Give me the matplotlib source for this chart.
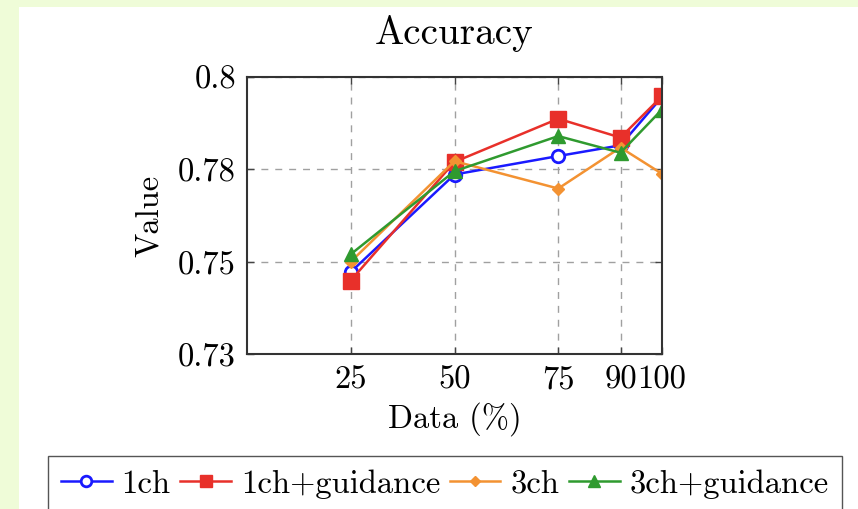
"""Accuracy vs. amount of training data for four model variants."""

import matplotlib

matplotlib.use("Agg")

import matplotlib.pyplot as plt
from matplotlib.patches import Rectangle

# data
data_pct = [25, 50, 75, 90, 100]
acc_1ch = [0.7472, 0.7736, 0.7786, 0.7815, 0.7946]
acc_1ch_guid = [0.7449, 0.7770, 0.7887, 0.7836, 0.7948]
acc_3ch = [0.7500, 0.7772, 0.7698, 0.7809, 0.7738]
acc_3ch_guid = [0.7520, 0.7745, 0.7840, 0.7795, 0.7912]

y_ticks = [0.725, 0.75, 0.775, 0.8]
y_tick_labels = ["0.73", "0.75", "0.78", "0.8"]

plt.rcParams["font.family"] = ["cmr10", "DejaVu Serif"]
plt.rcParams["mathtext.fontset"] = "cm"
plt.rcParams["axes.formatter.use_mathtext"] = True
plt.rcParams["font.size"] = 23.5

fig = plt.figure(figsize=(8.58, 5.09), dpi=100, facecolor="white")

# light green page border (top and left)
green = "#effcd8"
fig.patches.append(Rectangle((0, 1 - 7 / 509), 1, 7 / 509, transform=fig.transFigure,
                             facecolor=green, edgecolor="none", zorder=-10))
fig.patches.append(Rectangle((0, 0), 19 / 858, 1, transform=fig.transFigure,
                             facecolor=green, edgecolor="none", zorder=-10))

ax = fig.add_axes([247 / 858, 1 - 354 / 509, 415 / 858, 277 / 509])

series = [
    ("1ch", acc_1ch, "#1a1aff", "o", dict(markerfacecolor="white", markersize=9, markeredgewidth=2)),
    ("1ch+guidance", acc_1ch_guid, "#e8302a", "s", dict(markersize=11)),
    ("3ch", acc_3ch, "#f39232", "D", dict(markersize=6)),
    ("3ch+guidance", acc_3ch_guid, "#2f9a2f", "^", dict(markersize=10)),
]
for label, values, color, marker, kw in series:
    ax.plot(data_pct, values, color=color, marker=marker, linewidth=1.8,
            markeredgecolor=color, label=label, **kw)

ax.set_xlim(0, 100)
ax.set_ylim(0.725, 0.8)
ax.set_xticks(data_pct)
ax.set_xticklabels([str(x) for x in data_pct])
ax.set_yticks(y_ticks)
ax.set_yticklabels(y_tick_labels)
ax.tick_params(direction="in", length=5, width=1, color="#444444",
               top=True, right=True, pad=8)
ax.grid(True, linestyle=(0, (5, 5)), color="#a0a0a0", linewidth=1)
for spine in ax.spines.values():
    spine.set_color("#333333")
    spine.set_linewidth(1.5)

ax.set_title("Accuracy", pad=24)
ax.set_xlabel("Data (%)", labelpad=6)
ax.set_ylabel("Value", labelpad=10)

fig.legend(loc="upper left", bbox_to_anchor=(48 / 858, 1 - 456 / 509), ncol=4,
           frameon=True, fancybox=False, edgecolor="#555555", framealpha=1,
           handlelength=1.55, handletextpad=0.3, columnspacing=0.3,
           markerscale=0.85, borderpad=0.4, borderaxespad=0)

fig.savefig("out.png", dpi=100, facecolor=fig.get_facecolor())
